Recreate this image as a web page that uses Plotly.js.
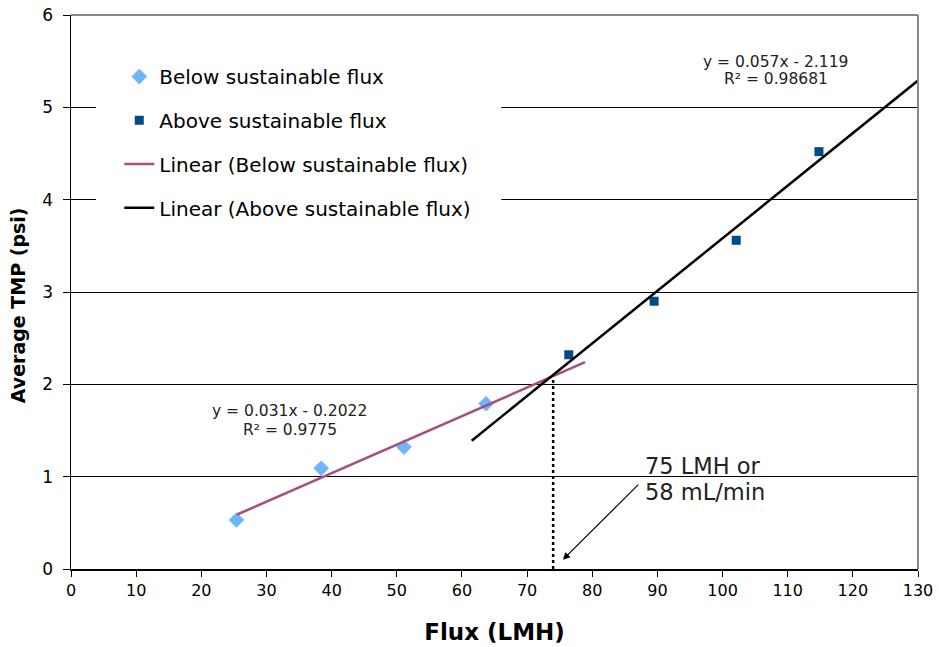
<!DOCTYPE html>
<html>
<head>
<meta charset="utf-8">
<script src="https://cdn.plot.ly/plotly-3.0.1.min.js"></script>
<style>html,body{margin:0;padding:0;background:#fff;}#chart{width:939px;height:647px;}</style>
</head>
<body>
<div id="chart"></div>
<script>
// Data
const belowFlux = [25.4, 38.4, 51.1, 63.7];
const belowTMP  = [0.53, 1.09, 1.32, 1.79];
const aboveFlux = [76.4, 89.5, 102.1, 114.8];
const aboveTMP  = [2.32, 2.90, 3.56, 4.52];

// Trendline endpoints (as drawn)
const belowFitX = [25.5, 78.9];
const belowFitY = [0.59, 2.24];
const aboveFitX = [61.5, 130];
const aboveFitY = [1.39, 5.29];

// Sustainable flux marker
const dropX = [74, 74];
const dropY = [0, 2.07];

const eqAboveLines = ["y = 0.057x - 2.119", "R² = 0.98681"];
const eqBelowLines = ["y = 0.031x - 0.2022", "R² = 0.9775"];
const noteLines = ["75 LMH or", "58 mL/min"];

const xTicks = [0,10,20,30,40,50,60,70,80,90,100,110,120,130];
const yTicks = [0,1,2,3,4,5,6];

const F = "DejaVu Sans";

const traces = [
  {x: belowFlux, y: belowTMP, mode: 'markers', type: 'scatter', name: 'Below sustainable flux',
   marker: {symbol: 'diamond', size: 12, color: '#6db6fb'}, legendgroup: 'a'},
  {x: aboveFlux, y: aboveTMP, mode: 'markers', type: 'scatter', name: 'Above sustainable flux',
   marker: {symbol: 'square', size: 9, color: '#004a86'}, legendgroup: 'b'},
  {x: belowFitX, y: belowFitY, mode: 'lines', type: 'scatter', name: 'Linear (Below sustainable flux)',
   line: {color: '#a84d7e', width: 2.5}, legendgroup: 'c'},
  {x: aboveFitX, y: aboveFitY, mode: 'lines', type: 'scatter', name: 'Linear (Above sustainable flux)',
   line: {color: '#000000', width: 2.5}, legendgroup: 'd'}
];

function textAnn(x, y, t, size, anchor) {
  return {x: x, y: y, xref: 'x', yref: 'y', text: t, showarrow: false, xanchor: anchor || 'center',
          yanchor: 'middle', font: {family: F, size: size, color: '#222'}};
}

const layout = {
  width: 939, height: 647,
  margin: {l: 71, r: 21, t: 15, b: 78},
  paper_bgcolor: '#fff', plot_bgcolor: '#fff',
  font: {family: F, color: '#000'},
  showlegend: true,
  legend: {x: 0.057, y: 0.924, xanchor: 'left', yanchor: 'top', bgcolor: 'rgba(0,0,0,0)', borderwidth: 0,
           font: {family: F, size: 20, color: '#000'}, traceorder: 'grouped', tracegroupgap: 14.7},
  xaxis: {range: [0, 130], tickvals: xTicks, ticktext: xTicks.map(String), showgrid: false, zeroline: false,
          showline: true, linecolor: '#000', linewidth: 1.5, ticks: 'outside', ticklen: 6, tickcolor: '#000',
          tickfont: {family: F, size: 16, color: '#000'},
          title: {text: '<b>Flux (LMH)</b>', font: {family: F, size: 23, color: '#000'}, standoff: 25}},
  yaxis: {range: [0, 6], tickvals: yTicks, ticktext: yTicks.map(String), showgrid: true, gridcolor: '#000', gridwidth: 1,
          zeroline: false, showline: true, linecolor: '#000', linewidth: 1.5, ticks: 'outside', ticklen: 7, tickcolor: '#000',
          ticklabelstandoff: 6,
          tickfont: {family: F, size: 17, color: '#000'}},
  shapes: [
    {type: 'rect', xref: 'paper', yref: 'paper', x0: 0.0295, x1: 0.508, y0: 0.615, y1: 0.937,
     fillcolor: '#fff', line: {width: 0}, layer: 'above'},
    {type: 'line', xref: 'x', yref: 'y', x0: dropX[0], x1: dropX[1], y0: dropY[0], y1: dropY[1],
     line: {color: '#000', width: 2.5, dash: 'dot'}},
    {type: 'line', xref: 'paper', yref: 'paper', x0: 0, x1: 1, y0: 1, y1: 1, line: {color: '#888', width: 2}, layer: 'above'},
    {type: 'line', xref: 'paper', yref: 'paper', x0: 1, x1: 1, y0: 0, y1: 1, line: {color: '#888', width: 2}, layer: 'above'}
  ],
  annotations: [
    {x: -0.0626, y: 0.476, xref: 'paper', yref: 'paper', text: '<b>Average TMP (psi)</b>', textangle: -90,
     showarrow: false, xanchor: 'center', yanchor: 'middle', font: {family: F, size: 19, color: '#000'}},
    textAnn(108.2, 5.49, eqAboveLines[0], 15.5),
    textAnn(108.2, 5.307, eqAboveLines[1], 15.5),
    textAnn(33.6, 1.711, eqBelowLines[0], 15.5),
    textAnn(33.6, 1.505, eqBelowLines[1], 15.5),
    textAnn(87.8, 1.116, noteLines[0], 22.5, 'left'),
    textAnn(87.8, 0.834, noteLines[1], 22.5, 'left'),
    {x: 75.5, y: 0.10, xref: 'x', yref: 'y', ax: 87.3, ay: 0.93, axref: 'x', ayref: 'y', text: '',
     showarrow: true, arrowhead: 2, arrowsize: 1.2, arrowwidth: 1.2, arrowcolor: '#000'}
  ]
};

Plotly.newPlot('chart', traces, layout, {displayModeBar: false, staticPlot: true});
</script>
</body>
</html>
